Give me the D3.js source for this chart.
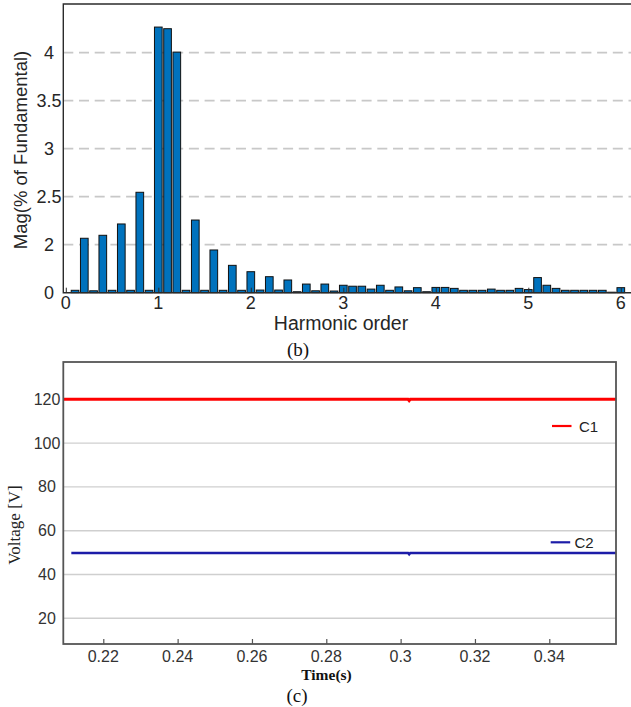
<!DOCTYPE html>
<html>
<head>
<meta charset="utf-8">
<script src="https://cdn.jsdelivr.net/npm/d3@7/dist/d3.min.js"></script>
<style>
  html, body { margin: 0; padding: 0; background: #fff; }
  svg { display: block; }
</style>
</head>
<body>
<svg id="fig" width="631" height="707"></svg>
<script>
// ---- (b) harmonic spectrum ----
const harmonicOrders = [
  0.1, 0.2, 0.3, 0.4, 0.5, 0.6, 0.7, 0.8, 0.9, 1.0,
  1.1, 1.2, 1.3, 1.4, 1.5, 1.6, 1.7, 1.8, 1.9, 2.0,
  2.1, 2.2, 2.3, 2.4, 2.5, 2.6, 2.7, 2.8, 2.9, 3.0,
  3.1, 3.2, 3.3, 3.4, 3.5, 3.6, 3.7, 3.8, 3.9, 4.0,
  4.1, 4.2, 4.3, 4.4, 4.5, 4.6, 4.7, 4.8, 4.9, 5.0,
  5.1, 5.2, 5.3, 5.4, 5.5, 5.6, 5.7, 5.8, 5.9, 6.0
];
const harmonicMag = [
  0.10, 2.067, 0.08, 2.098, 0.10, 2.216, 0.10, 2.546, 0.10, 4.267,
  4.25, 4.006, 0.10, 2.257, 0.10, 1.78, 0.10, 1.14, 0.10, 0.875,
  0.11, 0.667, 0.11, 0.53, 0.04, 0.36, 0.08, 0.36, 0.07, 0.31,
  0.27, 0.27, 0.15, 0.31, 0.10, 0.24, 0.08, 0.21, 0.04, 0.22,
  0.22, 0.18, 0.10, 0.10, 0.10, 0.15, 0.10, 0.10, 0.18, 0.13,
  0.63, 0.31, 0.18, 0.10, 0.10, 0.10, 0.10, 0.10, 0.02, 0.21
];
const spectrumXTicks = [0, 1, 2, 3, 4, 5, 6];
const spectrumYTicks = [0, 2, 2.5, 3, 3.5, 4];

// ---- (c) capacitor voltages ----
const c1Time = [0.2092, 0.3020, 0.3023, 0.3026, 0.3580];
const c1Volt = [120, 120, 119.4, 120, 120];
const c2Time = [0.2114, 0.3020, 0.3023, 0.3026, 0.3580];
const c2Volt = [49.8, 49.8, 49.2, 49.8, 49.8];
const timeTicks = [0.22, 0.24, 0.26, 0.28, 0.30, 0.32, 0.34];
const voltTicks = [20, 40, 60, 80, 100, 120];

const svg = d3.select("#fig");
const SANS = "'Liberation Sans', Arial, sans-serif";
const SERIF = "'Liberation Serif', 'Times New Roman', serif";

// ================= spectrum panel =================
{
  const left = 63.3, top = 4, bottom = 292.7, right = 631;
  const x = d3.scaleLinear().domain([0, 6]).range([65.8, 620.8]);
  // broken value axis: 0..2 compressed, 2..4.5 expanded
  const y = d3.scaleLinear().domain([0, 2, 4.5]).range([bottom, 244.7, 4.7]);
  const g = svg.append("g");

  // dashed grid
  g.selectAll("line.grid").data(spectrumYTicks.filter(d => d > 0)).join("line")
    .attr("x1", left).attr("x2", right)
    .attr("y1", d => y(d)).attr("y2", d => y(d))
    .attr("stroke", "#c8c8c8").attr("stroke-width", 1.8)
    .attr("stroke-dasharray", "10,5.7");

  const bw = 0.083 * (x(1) - x(0));
  g.selectAll("rect.bar").data(harmonicOrders.map((o, i) => ({o, v: harmonicMag[i]}))).join("rect")
    .attr("x", d => x(d.o) - bw / 2)
    .attr("width", bw)
    .attr("y", d => y(d.v))
    .attr("height", d => bottom - y(d.v))
    .attr("fill", "#0072BD")
    .attr("stroke", "#111").attr("stroke-width", 1);

  // axes frame (left, top, bottom)
  g.append("path")
    .attr("d", `M${right},${top}H${left}V${bottom}H${right}`)
    .attr("fill", "none").attr("stroke", "#2b2b2b").attr("stroke-width", 1.4);

  // x axis ticks pointing inward
  const xAxis = d3.axisTop(x).tickValues(spectrumXTicks).tickSize(5).tickFormat("");
  g.append("g").attr("transform", `translate(0,${bottom})`).call(xAxis)
    .call(a => a.select(".domain").remove())
    .selectAll("line").attr("stroke", "#2b2b2b");

  g.selectAll("text.xt").data(spectrumXTicks).join("text")
    .attr("x", d => x(d)).attr("y", 308.5)
    .attr("text-anchor", "middle")
    .attr("font-family", SANS).attr("font-size", 18).attr("fill", "#262626")
    .text(d => d);

  g.selectAll("text.yt").data(spectrumYTicks).join("text")
    .attr("x", 49).attr("y", d => y(d) + 6.5)
    .attr("text-anchor", "middle")
    .attr("font-family", SANS).attr("font-size", 18).attr("fill", "#262626")
    .text(d => d);

  g.append("text")
    .attr("transform", `translate(27,150) rotate(-90)`)
    .attr("text-anchor", "middle")
    .attr("font-family", SANS).attr("font-size", 18.5).attr("fill", "#262626")
    .text("Mag(% of Fundamental)");

  g.append("text")
    .attr("x", 341).attr("y", 330)
    .attr("text-anchor", "middle")
    .attr("font-family", SANS).attr("font-size", 19.5).attr("fill", "#262626")
    .text("Harmonic order");

  g.append("text")
    .attr("x", 298).attr("y", 356)
    .attr("text-anchor", "middle")
    .attr("font-family", SERIF).attr("font-size", 19).attr("fill", "#111")
    .text("(b)");
}

// ================= voltage panel =================
{
  const left = 63.3, right = 616, top = 362, bottom = 644;
  const x = d3.scaleLinear().domain([0.20924, 0.35795]).range([left, right]);
  const y = d3.scaleLinear().domain([8.26, 137.03]).range([bottom, top]);
  const g = svg.append("g");

  g.selectAll("line.grid").data(voltTicks).join("line")
    .attr("x1", left).attr("x2", right)
    .attr("y1", d => y(d)).attr("y2", d => y(d))
    .attr("stroke", "#cfcfcf").attr("stroke-width", 1.4);

  const line = d3.line().x(d => x(d[0])).y(d => y(d[1]));
  g.append("path")
    .datum(c2Time.map((t, i) => [t, c2Volt[i]]))
    .attr("d", line).attr("fill", "none")
    .attr("stroke", "#1c1ca8").attr("stroke-width", 2.6);
  g.append("path")
    .datum(c1Time.map((t, i) => [t, c1Volt[i]]))
    .attr("d", line).attr("fill", "none")
    .attr("stroke", "#ff0000").attr("stroke-width", 3);

  // frame
  g.append("rect")
    .attr("x", left).attr("y", top)
    .attr("width", right - left).attr("height", bottom - top)
    .attr("fill", "none").attr("stroke", "#555").attr("stroke-width", 1.8);

  const xAxis = d3.axisTop(x).tickValues(timeTicks).tickSize(5).tickFormat("");
  g.append("g").attr("transform", `translate(0,${bottom})`).call(xAxis)
    .call(a => a.select(".domain").remove())
    .selectAll("line").attr("stroke", "#555").attr("stroke-width", 1.2);

  g.selectAll("text.xt").data(timeTicks).join("text")
    .attr("x", d => x(d)).attr("y", 662)
    .attr("text-anchor", "middle")
    .attr("font-family", SANS).attr("font-size", 16).attr("fill", "#333")
    .text(d => d3.format("~g")(d));

  g.selectAll("text.yt").data(voltTicks).join("text")
    .attr("x", 47).attr("y", d => y(d) + 5.6)
    .attr("text-anchor", "middle")
    .attr("font-family", SANS).attr("font-size", 16).attr("fill", "#333")
    .text(d => d);

  g.append("text")
    .attr("transform", `translate(20,525) rotate(-90)`)
    .attr("text-anchor", "middle")
    .attr("font-family", SERIF).attr("font-size", 17).attr("fill", "#222")
    .text("Voltage [V]");

  g.append("text")
    .attr("x", 326.5).attr("y", 679.5)
    .attr("text-anchor", "middle")
    .attr("font-family", SERIF).attr("font-weight", "bold")
    .attr("font-size", 15.5).attr("fill", "#111")
    .text("Time(s)");

  g.append("text")
    .attr("x", 297).attr("y", 702)
    .attr("text-anchor", "middle")
    .attr("font-family", SERIF).attr("font-size", 19).attr("fill", "#111")
    .text("(c)");

  // legend entries
  const legend = [
    {name: "C1", color: "#ff0000", x0: 552, ly: 426, tx: 579},
    {name: "C2", color: "#1c1ca8", x0: 550.7, ly: 542.3, tx: 574.5}
  ];
  legend.forEach(l => {
    g.append("line")
      .attr("x1", l.x0).attr("x2", l.x0 + 19.5)
      .attr("y1", l.ly).attr("y2", l.ly)
      .attr("stroke", l.color).attr("stroke-width", 2.2);
    g.append("text")
      .attr("x", l.tx).attr("y", l.ly + 5.5)
      .attr("font-family", SANS).attr("font-size", 15).attr("fill", "#222")
      .text(l.name);
  });
}
</script>
</body>
</html>
